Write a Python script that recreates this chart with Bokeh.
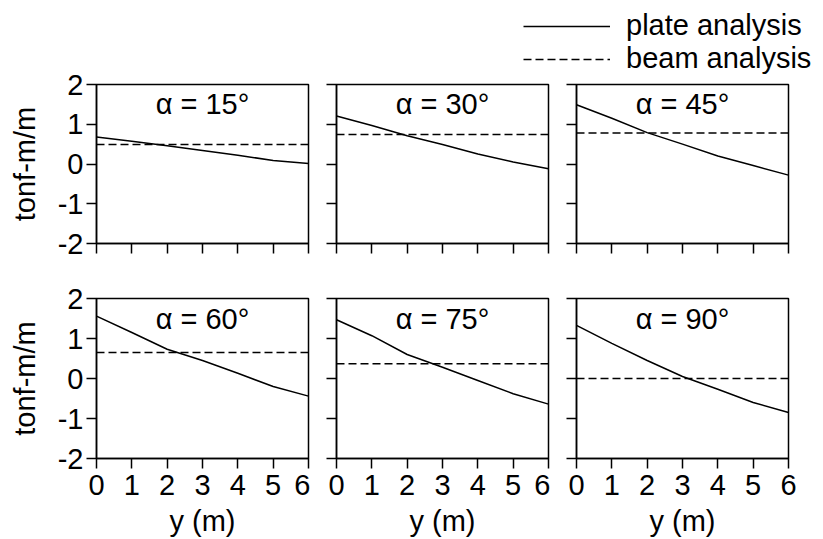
from bokeh.plotting import figure
from bokeh.layouts import column, row
from bokeh.models import Range1d, Label, Legend, LegendItem, CustomLabelingPolicy
from bokeh.embed import file_html
from bokeh.resources import INLINE

# ---- data ----
y_m = [0, 1, 2, 3, 4, 5, 6]
alphas = [15, 30, 45, 60, 75, 90]
plate_15 = [0.68, 0.57, 0.46, 0.34, 0.22, 0.09, 0.01]
plate_30 = [1.21, 0.97, 0.71, 0.49, 0.25, 0.05, -0.12]
plate_45 = [1.49, 1.15, 0.79, 0.50, 0.20, -0.04, -0.28]
plate_60 = [1.56, 1.15, 0.73, 0.45, 0.13, -0.20, -0.44]
plate_75 = [1.47, 1.07, 0.60, 0.28, -0.05, -0.38, -0.64]
plate_90 = [1.33, 0.88, 0.45, 0.05, -0.27, -0.60, -0.85]
beam = [0.49, 0.74, 0.78, 0.65, 0.37, 0.00]
x_ticks = [0, 1, 2, 3, 4, 5, 6]
y_ticks = [-2, -1, 0, 1, 2]
y_tick_labels = {-2: "-2", -1: "-1", 0: "0", 1: "1", 2: "2"}
X_RANGE = (0, 6)
Y_RANGE = (-2, 2)
plates = [plate_15, plate_30, plate_45, plate_60, plate_75, plate_90]

FONT = "Liberation Sans"
FS = "29px"
LW = 1.5

col_w = [310, 240, 273]
col_l = [96, 26, 26]
col_r = [2, 2, 35]
# top border of row-1 panels differs: column 1 carries the full top margin
row_h_first = [268, 188, 188]
row_t_first = [84, 4, 4]
row_h = 271
row_t = 30
row_b = [25, 81]


def make_panel(i):
    r, c = divmod(i, 3)
    h = row_h_first[c] if r == 0 else row_h
    t = row_t_first[c] if r == 0 else row_t
    p = figure(width=col_w[c], height=h,
               x_range=Range1d(*X_RANGE), y_range=Range1d(*Y_RANGE),
               output_backend="svg", toolbar_location=None,
               min_border_left=col_l[c], min_border_right=col_r[c],
               min_border_top=t, min_border_bottom=row_b[r])
    p.xgrid.visible = False
    p.ygrid.visible = False
    p.outline_line_color = "black"
    p.outline_line_width = LW
    p.outline_line_alpha = 1
    p.background_fill_color = "white"
    p.border_fill_color = "white"
    p.xaxis.ticker = x_ticks
    p.yaxis.ticker = y_ticks
    p.yaxis.major_label_overrides = y_tick_labels
    for ax in (p.xaxis[0], p.yaxis[0]):
        ax.axis_line_width = LW
        ax.axis_line_color = "black"
        ax.major_tick_line_width = LW
        ax.major_tick_line_color = "black"
        ax.major_tick_out = 10
        ax.major_tick_in = 0
        ax.minor_tick_out = 0
        ax.minor_tick_in = 0
        ax.major_label_text_font = FONT
        ax.major_label_text_font_size = FS
        ax.major_label_text_color = "black"
        ax.axis_label_text_font = FONT
        ax.axis_label_text_font_size = FS
        ax.axis_label_text_font_style = "normal"
        ax.axis_label_text_color = "black"
    no_labels = CustomLabelingPolicy(code="return new Set()")
    if c == 0:
        p.yaxis.axis_label = "tonf-m/m"
        p.yaxis.major_label_standoff = 3
        p.yaxis.axis_label_standoff = 14
    else:
        p.yaxis.major_label_text_font_size = "0px"
        p.yaxis.major_label_standoff = 0
        p.yaxis.major_label_policy = no_labels
    if r == 1:
        p.xaxis.axis_label = "y (m)"
        p.xaxis.major_label_standoff = 6
        p.xaxis.axis_label_standoff = 7
    else:
        p.xaxis.major_label_text_font_size = "0px"
        p.xaxis.major_label_standoff = 0
        p.xaxis.major_label_policy = no_labels

    p.line(y_m, plates[i], line_color="black", line_width=LW)
    p.line([X_RANGE[0], X_RANGE[1]], [beam[i], beam[i]], line_color="black",
           line_width=LW, line_dash="8 4")
    p.add_layout(Label(x=(X_RANGE[0] + X_RANGE[1]) / 2, y=Y_RANGE[1] - 0.5,
                       text=f"α = {alphas[i]}°", text_align="center",
                       text_baseline="middle", text_font=FONT,
                       text_font_size=FS, text_color="black"))
    return p


panels = [make_panel(i) for i in range(6)]

# legend strip above columns 2-3 (its ranges keep the sample lines out of view)
strip = figure(width=513, height=80, output_backend="svg", toolbar_location=None,
               x_range=Range1d(100, 101), y_range=Range1d(100, 101),
               x_axis_location=None, y_axis_location=None,
               min_border_left=0, min_border_right=0,
               min_border_top=0, min_border_bottom=0)
strip.xgrid.visible = False
strip.ygrid.visible = False
strip.outline_line_color = None
strip.border_fill_color = "white"
strip.background_fill_color = "white"
r_plate = strip.line(y_m, plate_15, line_color="black", line_width=LW)
r_beam = strip.line(y_m, plate_15, line_color="black", line_width=LW, line_dash="8 4")
legend = Legend(items=[LegendItem(label="plate analysis", renderers=[r_plate]),
                       LegendItem(label="beam analysis", renderers=[r_beam])],
                location=(213, 5), border_line_color=None,
                background_fill_alpha=0, padding=0, margin=0, spacing=0,
                glyph_width=87, glyph_height=32, label_height=32,
                label_standoff=16, label_text_font=FONT,
                label_text_font_size=FS, label_text_color="black")
strip.add_layout(legend)

layout = row(column(panels[0], panels[3]),
             column(strip,
                    row(panels[1], panels[2]),
                    row(panels[4], panels[5])))

open("out.html", "w").write(file_html(layout, INLINE))
